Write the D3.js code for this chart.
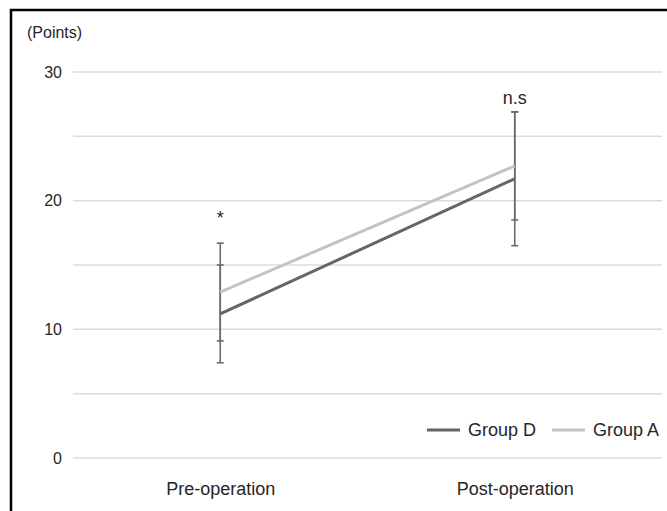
<!DOCTYPE html>
<html><head><meta charset="utf-8">
<script src="https://cdn.jsdelivr.net/npm/d3@7"></script>
<style>
html,body{margin:0;padding:0;background:#fff;overflow:hidden;}
svg{display:block;}
text{font-family:"Liberation Sans",Arial,Helvetica,sans-serif;fill:#262626;}
</style></head>
<body><svg id="c" width="667" height="511"></svg>
<script>
const categories = ["Pre-operation", "Post-operation"];
const seriesNames = ["Group D", "Group A"];
const groupD = [11.2, 21.7];
const groupA = [12.9, 22.7];
const groupDLow = [7.4, 16.5];
const groupDHigh = [15.0, 26.9];
const groupALow = [9.1, 18.5];
const groupAHigh = [16.7, 26.9];
const yTicks = [0, 10, 20, 30];
const gridValues = [0, 5, 10, 15, 20, 25, 30];
const significance = ["*", "n.s"];

const svg = d3.select("#c");
svg.append("rect").attr("x",0).attr("y",0).attr("width",667).attr("height",511).attr("fill","#fff");
svg.append("path").attr("d","M11,511 V10 H667")
  .attr("fill","none").attr("stroke","#000").attr("stroke-width",2.5);

const x = d3.scalePoint().domain(categories).range([73, 662]).padding(0.5);
const y = d3.scaleLinear().domain([0, 30]).range([458, 72]);

// gridlines
svg.append("g").selectAll("line").data(gridValues).join("line")
  .attr("x1",73).attr("x2",662)
  .attr("y1",d=>y(d)).attr("y2",d=>y(d))
  .attr("stroke","#dcdcdc").attr("stroke-width",1.5);

// y axis labels
const yAxis = d3.axisLeft(y).tickValues(yTicks).tickSize(0).tickPadding(0).tickFormat(d3.format("d"));
const ya = svg.append("g").attr("transform","translate(62,0)").call(yAxis);
ya.select(".domain").remove();
ya.selectAll("text").attr("font-size",16).attr("fill","#262626")
  .attr("font-family",'"Liberation Sans",Arial,sans-serif');

// x axis labels
const xAxis = d3.axisBottom(x).tickSize(0).tickPadding(0);
const xa = svg.append("g").attr("transform","translate(0,482)").call(xAxis);
xa.select(".domain").remove();
xa.selectAll("text").attr("font-size",18).attr("fill","#262626")
  .attr("font-family",'"Liberation Sans",Arial,sans-serif');

svg.append("text").attr("x",27).attr("y",38).attr("font-size",16).text("(Points)");

// error bars
const errColor = "#6a6a6a";
function errBars(lo, hi){
  const g = svg.append("g");
  categories.forEach((c,i)=>{
    const cx = x(c);
    g.append("line").attr("x1",cx).attr("x2",cx).attr("y1",y(lo[i])).attr("y2",y(hi[i]))
      .attr("stroke",errColor).attr("stroke-width",1.6);
    [lo[i],hi[i]].forEach(v=>{
      g.append("line").attr("x1",cx-3.5).attr("x2",cx+3.5).attr("y1",y(v)).attr("y2",y(v))
        .attr("stroke",errColor).attr("stroke-width",1.6);
    });
  });
}
errBars(groupDLow, groupDHigh);
errBars(groupALow, groupAHigh);

// lines
const line = d3.line().x((d,i)=>x(categories[i])).y(d=>y(d));
const colors = ["#666666", "#c4c4c4"];
[groupD, groupA].forEach((s,k)=>{
  svg.append("path").datum(s).attr("d",line).attr("fill","none")
    .attr("stroke",colors[k]).attr("stroke-width",3);
});

// significance
const sigVals = [groupAHigh[0], groupAHigh[1]];
svg.append("text").attr("x",x(categories[0])).attr("y",y(sigVals[0])-19)
  .attr("text-anchor","middle").attr("font-size",18).text(significance[0]);
svg.append("text").attr("x",x(categories[1])).attr("y",y(sigVals[1])-8)
  .attr("text-anchor","middle").attr("font-size",18).text(significance[1]);

// legend
const legX = [427, 552];
seriesNames.forEach((n,k)=>{
  svg.append("line").attr("x1",legX[k]).attr("x2",legX[k]+33).attr("y1",430).attr("y2",430)
    .attr("stroke",colors[k]).attr("stroke-width",3);
  svg.append("text").attr("x",legX[k]+41).attr("y",436).attr("font-size",18).text(n);
});
</script></body></html>
